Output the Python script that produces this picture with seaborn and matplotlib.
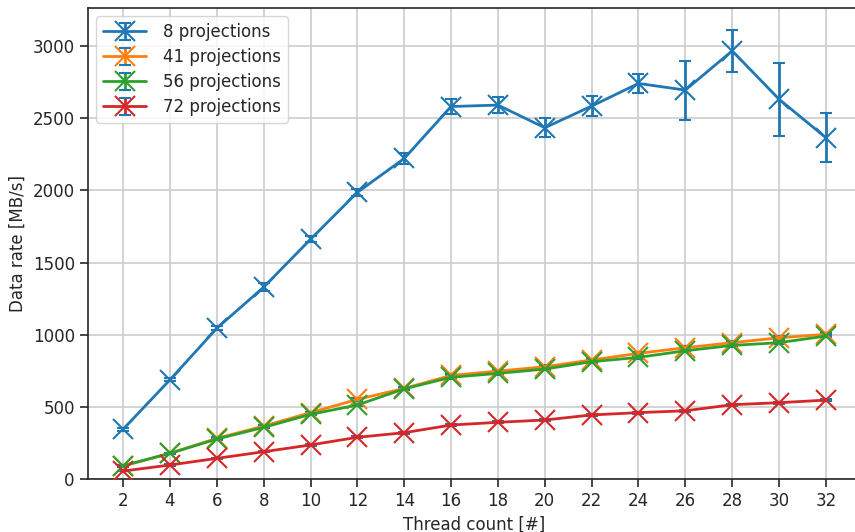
import matplotlib
matplotlib.use("Agg")
import matplotlib.pyplot as plt
import seaborn as sns
import pandas as pd
import numpy as np
from matplotlib.lines import Line2D
from matplotlib.legend_handler import HandlerTuple

threads = [2, 4, 6, 8, 10, 12, 14, 16, 18, 20, 22, 24, 26, 28, 30, 32]
series_names = ["8 projections", "41 projections", "56 projections", "72 projections"]

rate_8 = [345, 688, 1045, 1330, 1662, 1987, 2222, 2582, 2592, 2435, 2585, 2742, 2696, 2968, 2633, 2366]
err_8 = [10, 12, 15, 30, 20, 25, 35, 55, 53, 67, 68, 67, 205, 145, 252, 168]
rate_41 = [90, 178, 282, 367, 460, 552, 628, 718, 748, 778, 825, 871, 910, 945, 979, 1003]
err_41 = [5, 5, 6, 6, 7, 8, 8, 9, 9, 9, 10, 10, 10, 10, 10, 10]
rate_56 = [92, 178, 277, 358, 448, 513, 625, 705, 732, 762, 813, 843, 889, 926, 945, 991]
err_56 = [5, 5, 6, 6, 7, 8, 8, 9, 9, 9, 10, 10, 10, 10, 10, 10]
rate_72 = [55, 97, 143, 189, 236, 289, 321, 374, 393, 409, 444, 460, 473, 515, 529, 547]
err_72 = [3, 4, 4, 5, 5, 6, 6, 6, 7, 7, 7, 7, 8, 8, 8, 8]

rates = [rate_8, rate_41, rate_56, rate_72]
errs = [err_8, err_41, err_56, err_72]

df = pd.concat([
    pd.DataFrame({"threads": threads, "rate": r, "err": e, "series": n})
    for r, e, n in zip(rates, errs, series_names)
], ignore_index=True)

sns.set_style("ticks")
plt.rcParams["font.family"] = ["DejaVu Sans"]
palette = sns.color_palette("tab10", 4)

fig = plt.figure(figsize=(8.55, 5.32), dpi=100)
ax = fig.add_axes([88 / 855, 1 - 479 / 532, (861 - 88) / 855, (479 - 8) / 532])

handles = []
for name, c in zip(series_names, palette):
    sub = df[df["series"] == name]
    cont = ax.errorbar(sub["threads"], sub["rate"], yerr=sub["err"], fmt="none",
                       ecolor=c, elinewidth=2, capsize=4, capthick=1.5, zorder=2)
    ln = Line2D([], [], color=c, marker="x", markersize=15, markeredgewidth=1.5, linewidth=2)
    handles.append((ln, cont))

sns.lineplot(data=df, x="threads", y="rate", hue="series", hue_order=series_names,
             palette=palette, marker="x", markersize=15, markeredgewidth=1.5,
             linewidth=2, legend=False, ax=ax, errorbar=None)
for line in ax.lines:
    line.set_markeredgecolor(line.get_color())
    line.set_markerfacecolor(line.get_color())
    line.set_zorder(3)

ax.set_xlim(0.5, 33.5)
ax.set_ylim(0, 3265)
ax.set_xticks(threads)
ax.set_yticks(range(0, 3001, 500))
ax.grid(True, color=".8", linewidth=1.2)
ax.set_axisbelow(True)
ax.tick_params(labelsize=12, length=6, width=1.2)
for s in ax.spines.values():
    s.set_linewidth(1.2)
ax.set_xlabel("Thread count [#]", fontsize=12)
ax.set_ylabel("Data rate [MB/s]", fontsize=12)

ax.legend(handles, series_names, handler_map={tuple: HandlerTuple(ndivide=1)},
          loc="upper left", fontsize=12, frameon=True, handlelength=2.6,
          labelspacing=0.42, handletextpad=1.0)

fig.savefig("out.png", dpi=100)
